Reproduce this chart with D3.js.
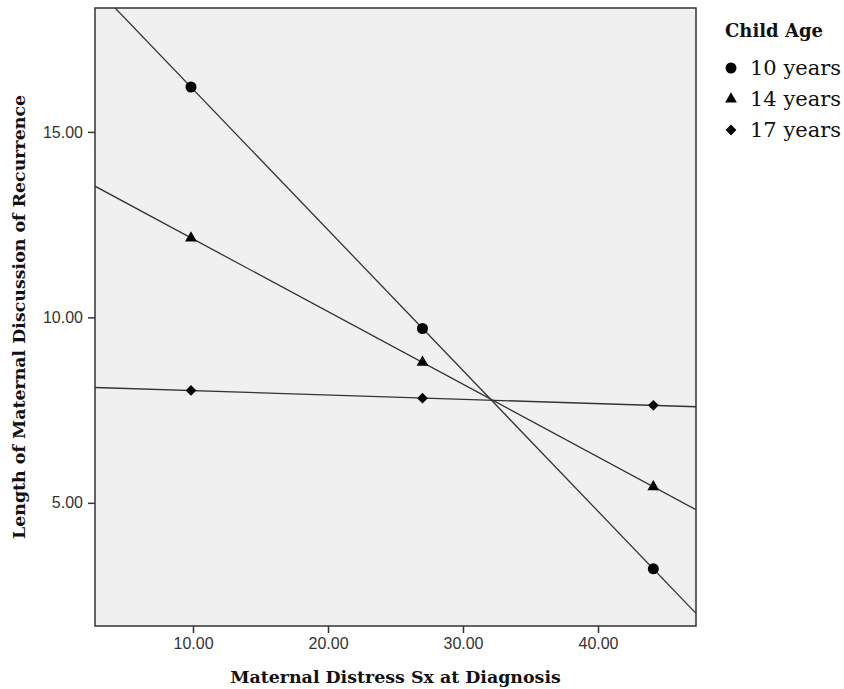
<!DOCTYPE html>
<html>
<head>
<meta charset="utf-8">
<script src="https://cdn.jsdelivr.net/npm/d3@7"></script>
<style>
  body { margin: 0; background: #fff; }
  .tick text { font-family: "Liberation Sans", sans-serif; font-size: 16px; fill: #333; }
  .axis-title { font-family: "DejaVu Serif", serif; font-weight: bold; font-size: 17.4px; fill: #111; }
  .legend-title { font-family: "DejaVu Serif", serif; font-weight: bold; font-size: 18px; fill: #111; }
  .legend-item { font-family: "DejaVu Serif", serif; font-size: 21px; fill: #111; }
</style>
</head>
<body>
<div id="chart"></div>
<script>
// ---- data -------------------------------------------------------------------
const groups   = ['10 years', '14 years', '17 years'];
const symbols  = ['circle', 'triangle', 'diamond'];
const xValues  = [9.85, 27.0, 44.1];
const age10    = [16.21, 9.70, 3.22];
const age14    = [12.14, 8.79, 5.43];
const age17    = [8.03, 7.82, 7.63];
const xTicks   = [10, 20, 30, 40];
const yTicks   = [5, 10, 15];
const seriesValues = [age10, age14, age17];

// ---- layout -----------------------------------------------------------------
const W = 844, H = 689;
const plot = { left: 95, top: 8, right: 696, bottom: 626 };

const svg = d3.select('#chart').append('svg').attr('width', W).attr('height', H);

const x = d3.scaleLinear().domain([2.74, 47.26]).range([plot.left, plot.right]);
const y = d3.scaleLinear().domain([1.68, 18.34]).range([plot.bottom, plot.top]);

svg.append('defs').append('clipPath').attr('id', 'plot-clip')
  .append('rect')
  .attr('x', plot.left).attr('y', plot.top)
  .attr('width', plot.right - plot.left).attr('height', plot.bottom - plot.top);

// background
svg.append('rect')
  .attr('x', plot.left).attr('y', plot.top)
  .attr('width', plot.right - plot.left).attr('height', plot.bottom - plot.top)
  .attr('fill', '#f0f0f0');

// ---- fit lines (least squares through each group's points) -----------------
function fit(vals) {
  const mx = d3.mean(xValues), my = d3.mean(vals);
  let num = 0, den = 0;
  xValues.forEach((xv, i) => { num += (xv - mx) * (vals[i] - my); den += (xv - mx) ** 2; });
  const b = num / den;
  return xv => my + b * (xv - mx);
}

const lineG = svg.append('g').attr('clip-path', 'url(#plot-clip)');
seriesValues.forEach(vals => {
  const f = fit(vals);
  const [x0, x1] = x.domain();
  lineG.append('line')
    .attr('x1', x(x0)).attr('y1', y(f(x0)))
    .attr('x2', x(x1)).attr('y2', y(f(x1)))
    .attr('stroke', '#333').attr('stroke-width', 1.3);
});

// ---- markers ----------------------------------------------------------------
// diamond = square turned 45°, like SPSS draws it
const symType = { circle: d3.symbolCircle, triangle: d3.symbolTriangle, diamond: d3.symbolSquare };
const symSize = { circle: 95, triangle: 60, diamond: 58 };
function marker(g, kind, tx, ty) {
  return g.append('path')
    .attr('d', d3.symbol().type(symType[kind]).size(symSize[kind]))
    .attr('transform', `translate(${tx},${ty})` + (kind === 'diamond' ? ' rotate(45)' : ''))
    .attr('fill', '#000');
}

seriesValues.forEach((vals, si) => {
  vals.forEach((v, i) => marker(svg, symbols[si], x(xValues[i]), y(v)));
});

// frame
svg.append('rect')
  .attr('x', plot.left).attr('y', plot.top)
  .attr('width', plot.right - plot.left).attr('height', plot.bottom - plot.top)
  .attr('fill', 'none').attr('stroke', '#333').attr('stroke-width', 1.5);

// ---- axes -------------------------------------------------------------------
const xAxis = svg.append('g').attr('transform', `translate(0,${plot.bottom})`)
  .call(d3.axisBottom(x).tickValues(xTicks).tickFormat(d3.format('.2f')).tickSize(7).tickPadding(5));
const yAxis = svg.append('g').attr('transform', `translate(${plot.left},0)`)
  .call(d3.axisLeft(y).tickValues(yTicks).tickFormat(d3.format('.2f')).tickSize(7).tickPadding(5));
[xAxis, yAxis].forEach(a => {
  a.select('.domain').remove();
  a.selectAll('.tick line').attr('stroke', '#333').attr('stroke-width', 1.5);
});

svg.append('text').attr('class', 'axis-title')
  .attr('x', (plot.left + plot.right) / 2).attr('y', 683)
  .attr('text-anchor', 'middle')
  .text('Maternal Distress Sx at Diagnosis');

svg.append('text').attr('class', 'axis-title')
  .attr('transform', `translate(25,${(plot.top + plot.bottom) / 2}) rotate(-90)`)
  .attr('text-anchor', 'middle')
  .text('Length of Maternal Discussion of Recurrence');

// ---- legend -----------------------------------------------------------------
const legend = svg.append('g').attr('transform', 'translate(724,0)');
legend.append('text').attr('class', 'legend-title').attr('x', 1).attr('y', 37).text('Child Age');
groups.forEach((name, i) => {
  const cy = 68 + i * 31;
  marker(legend, symbols[i], 7, cy);
  legend.append('text').attr('class', 'legend-item').attr('x', 26).attr('y', cy + 7).text(name);
});
</script>
</body>
</html>
